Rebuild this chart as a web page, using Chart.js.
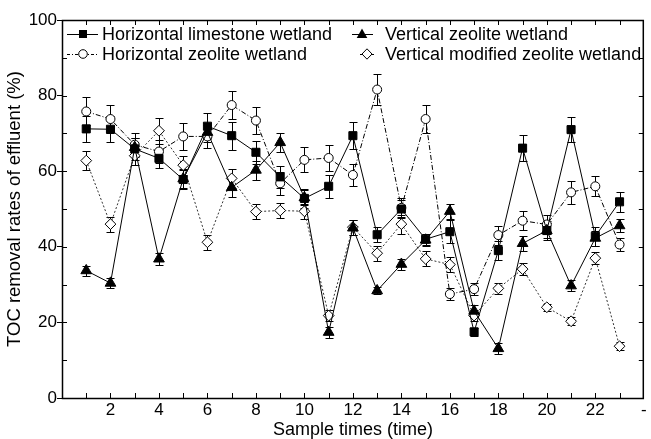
<!DOCTYPE html>
<html>
<head>
<meta charset="utf-8">
<script src="https://cdn.jsdelivr.net/npm/chart.js@4.4.1/dist/chart.umd.min.js"></script>
<style>
  html,body{margin:0;padding:0;background:#fff;}
  #wrap{position:relative;width:651px;height:439px;font-family:"Liberation Sans",Arial,sans-serif;}
  #tocChart{position:absolute;left:0;top:0;}
  .legTxt{position:absolute;height:20px;line-height:20px;font-size:18px;color:#000;white-space:nowrap;}
  .legSym{position:absolute;display:block;}
</style>
</head>
<body>
<div id="wrap">
  <canvas id="tocChart" width="651" height="439"></canvas>
</div>
<script>
// sample times 1..23
const samples = [1,2,3,4,5,6,7,8,9,10,11,12,13,14,15,16,17,18,19,20,21,22,23];

const seriesNames = [
    "Horizontal limestone wetland",
    "Vertical zeolite wetland",
    "Horizontal zeolite wetland",
    "Vertical modified zeolite wetland"
];

// TOC removal rates (%)
const limestoneH = [71.2,71.1,65.9,63.4,57.8,71.9,69.4,65.0,58.5,52.8,56.0,69.4,43.2,50.0,42.0,44.0,17.5,39.0,66.1,44.3,71.0,42.8,51.9];
const zeoliteV   = [33.7,30.4,66.3,36.8,58.0,70.3,55.7,60.3,67.6,53.0,17.4,45.0,28.4,35.4,41.8,49.4,23.0,13.1,40.9,44.3,29.7,42.3,45.6];
const zeoliteH   = [75.8,73.8,67.0,65.2,69.2,69.2,77.5,73.4,56.8,63.0,63.5,59.0,81.6,50.3,73.8,27.5,28.8,43.1,46.9,45.9,54.4,56.0,40.6];
const modifiedV  = [62.8,46.0,64.1,70.7,61.6,41.2,58.1,49.3,49.6,49.4,21.8,45.2,38.3,46.0,36.8,35.3,21.8,29.0,34.1,24.0,20.3,37.0,13.7];

// error bars (+/-)
const limestoneHErr = [3.5,3.5,3.0,2.5,2.5,3.5,3.7,3.0,3.0,2.5,3.0,3.5,2.0,2.5,1.5,3.0,1.0,2.5,3.5,2.5,3.4,2.5,2.6];
const zeoliteVErr   = [1.3,1.3,2.5,1.5,2.5,2.5,2.5,2.5,2.5,2.0,1.5,2.0,1.0,1.5,1.5,2.0,1.5,1.5,2.0,2.0,1.5,2.0,1.8];
const zeoliteHErr   = [3.7,3.7,3.0,3.0,3.5,3.0,3.7,3.5,3.0,3.3,3.5,3.0,4.0,2.5,3.7,1.5,1.5,2.5,2.5,2.5,3.0,2.6,1.8];
const modifiedVErr  = [2.5,2.0,2.5,3.5,2.5,2.0,2.5,2.0,2.0,2.0,1.5,2.0,2.0,2.5,2.0,2.0,1.5,1.5,1.5,1.0,1.0,1.5,1.0];

const xTicks = [2,4,6,8,10,12,14,16,18,20,22];
const yTicks = [0,20,40,60,80,100];

const FONT = "'Liberation Sans', Arial, sans-serif";

function pts(arr){
    return samples.map((s,i)=>({x:s,y:arr[i]}));
}

const errorBars = {
    id:"errorBars",
    beforeDatasetsDraw(chart){
        const ctx = chart.ctx;
        const xs = chart.scales.x, ys = chart.scales.y;
        ctx.save();
        ctx.strokeStyle = "#000";
        ctx.lineWidth = 1;
        chart.data.datasets.forEach(ds=>{
            ds.data.forEach((p,i)=>{
                const e = ds.err[i];
                const x = Math.round(xs.getPixelForValue(p.x))+0.5;
                const yt = Math.round(ys.getPixelForValue(p.y+e))+0.5;
                const yb = Math.round(ys.getPixelForValue(p.y-e))+0.5;
                ctx.beginPath();
                ctx.moveTo(x,yt); ctx.lineTo(x,yb);
                ctx.moveTo(x-4,yt); ctx.lineTo(x+4,yt);
                ctx.moveTo(x-4,yb); ctx.lineTo(x+4,yb);
                ctx.stroke();
            });
        });
        ctx.restore();
    }
};

// box around plot with small inward ticks
const frameTicks = {
    id:"frameTicks",
    afterDraw(chart){
        const ctx = chart.ctx;
        const {left,right,top,bottom} = chart.chartArea;
        const xs = chart.scales.x, ys = chart.scales.y;
        ctx.save();
        ctx.strokeStyle = "#000";
        ctx.lineWidth = 1;
        ctx.beginPath();
        for(let v=1; v<24; v++){
            const x = Math.round(xs.getPixelForValue(v))+0.5;
            ctx.moveTo(x,bottom); ctx.lineTo(x,bottom-5);
            ctx.moveTo(x,top); ctx.lineTo(x,top+5);
        }
        for(let v=10; v<100; v+=10){
            const y = Math.round(ys.getPixelForValue(v))+0.5;
            ctx.moveTo(left,y); ctx.lineTo(left+5,y);
            ctx.moveTo(right,y); ctx.lineTo(right-5,y);
        }
        ctx.stroke();
        ctx.lineWidth = 1.5;
        ctx.strokeRect(left+0.5,top+0.5,right-left-1,bottom-top);
        ctx.restore();
    }
};

function renderChart(){
    const ctx = document.getElementById("tocChart").getContext("2d");
    new Chart(ctx,{
        type:"line",
        data:{
            datasets:[
                {label:seriesNames[0],data:pts(limestoneH),err:limestoneHErr,borderColor:"#000",borderWidth:1,
                 pointStyle:"rect",pointRadius:5.7,backgroundColor:"#000",pointBorderColor:"#000",tension:0},
                {label:seriesNames[1],data:pts(zeoliteV),err:zeoliteVErr,borderColor:"#000",borderWidth:1,
                 pointStyle:"triangle",pointRadius:6.2,backgroundColor:"#000",pointBorderColor:"#000",tension:0},
                {label:seriesNames[2],data:pts(zeoliteH),err:zeoliteHErr,borderColor:"#000",borderWidth:1,borderDash:[5,2,1,2],
                 pointStyle:"circle",pointRadius:4.5,backgroundColor:"#fff",pointBorderColor:"#000",pointBorderWidth:1,tension:0},
                {label:seriesNames[3],data:pts(modifiedV),err:modifiedVErr,borderColor:"#333",borderWidth:1,borderDash:[2,2],
                 pointStyle:"rectRot",pointRadius:5.4,backgroundColor:"#fff",pointBorderColor:"#000",pointBorderWidth:1,tension:0}
            ]
        },
        options:{
            responsive:false,
            animation:false,
            devicePixelRatio:1,
            layout:{padding:{top:20,right:2,left:0,bottom:0}},
            plugins:{legend:{display:false},tooltip:{enabled:false}},
            scales:{
                x:{
                    type:"linear",min:0,max:24,
                    afterFit(s){ s.height = 41; },
                    afterBuildTicks(s){ s.ticks = xTicks.concat([24]).map(v=>({value:v})); },
                    ticks:{color:"#000",font:{family:FONT,size:17,lineHeight:1},padding:4,maxRotation:0,autoSkip:false,
                        callback:v=>v===24?"-":String(v)},
                    grid:{drawOnChartArea:false,drawTicks:false},
                    border:{display:false},
                    title:{display:true,text:"Sample times (time)",color:"#000",font:{family:FONT,size:18,lineHeight:1},padding:{top:0,bottom:0}}
                },
                y:{
                    min:0,max:100,
                    afterFit(s){ s.width = 62; },
                    afterBuildTicks(s){ s.ticks = yTicks.map(v=>({value:v})); },
                    ticks:{color:"#000",font:{family:FONT,size:17},padding:0},
                    grid:{drawOnChartArea:false,drawTicks:true,tickLength:5,tickColor:"#000"},
                    border:{display:false},
                    title:{display:true,text:"TOC removal rates of effluent (%)",color:"#000",font:{family:FONT,size:18.5,lineHeight:1},padding:{top:6,bottom:0}}
                }
            }
        },
        plugins:[errorBars,frameTicks]
    });
}

// legend: line sample + marker, drawn as svg
function symbolSvg(w,cx,dash,marker){
    let m = "";
    if(marker==="rect") m = `<rect x="${cx-4}" y="3" width="8" height="8" fill="#000"/>`;
    if(marker==="triangle") m = `<polygon points="${cx},1.5 ${cx+5.3},11 ${cx-5.3},11" fill="#000"/>`;
    if(marker==="circle") m = `<circle cx="${cx}" cy="7" r="4.3" fill="#fff" stroke="#000" stroke-width="1"/>`;
    if(marker==="rectRot") m = `<polygon points="${cx},1.8 ${cx+5},7 ${cx},12.2 ${cx-5},7" fill="#fff" stroke="#000" stroke-width="1"/>`;
    return `<svg class="legSym" width="${w}" height="14"><line x1="0" y1="7.5" x2="${w}" y2="7.5" stroke="#000" stroke-width="1" ${dash?`stroke-dasharray="${dash}"`:""}/>${m}</svg>`;
}

function buildLegend(){
    const wrap = document.getElementById("wrap");
    const items = [
        {name:seriesNames[0],symLeft:67,w:31,cx:16,dash:"",marker:"rect",txtLeft:102,cy:34},
        {name:seriesNames[1],symLeft:352,w:21,cx:10,dash:"",marker:"triangle",txtLeft:385,cy:34},
        {name:seriesNames[2],symLeft:67,w:31,cx:16,dash:"3,2,1,2",marker:"circle",txtLeft:102,cy:54},
        {name:seriesNames[3],symLeft:360,w:15,cx:7,dash:"2,2",marker:"rectRot",txtLeft:385,cy:54}
    ];
    items.forEach(it=>{
        const holder = document.createElement("div");
        holder.innerHTML = symbolSvg(it.w,it.cx,it.dash,it.marker);
        const svg = holder.firstChild;
        svg.style.left = it.symLeft+"px";
        svg.style.top = (it.cy-7)+"px";
        wrap.appendChild(svg);
        const t = document.createElement("div");
        t.className = "legTxt";
        t.textContent = it.name;
        t.style.left = it.txtLeft+"px";
        t.style.top = (it.cy-10)+"px";
        wrap.appendChild(t);
    });
}

renderChart();
buildLegend();
</script>
</body>
</html>
